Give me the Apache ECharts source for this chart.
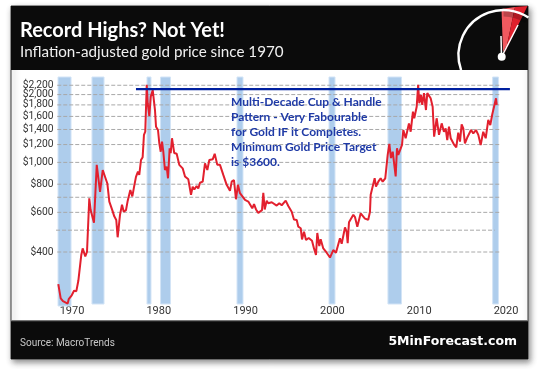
<!DOCTYPE html>
<html>
<head>
<meta charset="utf-8">
<script src="https://cdn.jsdelivr.net/npm/echarts@6/dist/echarts.min.js"></script>
<style>html,body{margin:0;padding:0;background:#fff}#c{width:540px;height:369px}</style>
</head>
<body>
<div id="c"></div>
<script>
const years = [1968.42,1968.65,1968.70,1968.96,1969.19,1969.50,1969.62,1969.97,1970.12,1970.23,1970.50,1970.73,1970.89,1971.07,1971.23,1971.53,1971.73,1971.99,1972.15,1972.53,1972.85,1973.23,1973.54,1974.07,1974.30,1974.64,1974.87,1975.10,1975.26,1975.53,1975.76,1975.96,1976.22,1976.42,1976.72,1976.95,1977.18,1977.37,1977.60,1977.75,1977.95,1978.14,1978.29,1978.44,1978.61,1978.72,1978.91,1979.07,1979.30,1979.56,1979.68,1979.91,1980.06,1980.22,1980.37,1980.52,1980.71,1980.91,1981.06,1981.25,1981.37,1981.52,1981.67,1981.78,1982.06,1982.36,1982.75,1983.02,1983.40,1983.71,1983.90,1984.09,1984.36,1984.55,1984.75,1985.06,1985.32,1985.59,1985.82,1986.21,1986.44,1986.74,1987.05,1987.43,1987.82,1988.20,1988.40,1988.66,1988.89,1989.12,1989.35,1989.58,1989.93,1990.31,1990.51,1990.77,1990.97,1991.20,1991.46,1991.66,1991.89,1992.04,1992.20,1992.43,1992.61,1993.01,1993.19,1993.58,1993.88,1994.16,1994.62,1994.92,1995.31,1995.57,1995.89,1996.07,1996.35,1996.50,1996.73,1996.96,1997.27,1997.65,1997.88,1998.11,1998.26,1998.49,1998.65,1998.95,1999.34,1999.72,2000.10,2000.41,2000.87,2001.07,2001.45,2001.64,2001.76,2001.91,2002.41,2002.60,2002.87,2003.26,2003.75,2004.13,2004.33,2004.41,2004.64,2004.87,2005.02,2005.29,2005.56,2005.79,2006.09,2006.37,2006.56,2006.75,2006.95,2007.13,2007.29,2007.44,2007.59,2007.79,2008.02,2008.17,2008.44,2008.82,2009.02,2009.28,2009.43,2009.71,2009.88,2010.01,2010.20,2010.35,2010.55,2010.78,2010.93,2011.32,2011.55,2011.70,2011.72,2012.01,2012.28,2012.59,2012.85,2013.05,2013.23,2013.43,2013.63,2013.81,2014.04,2014.27,2014.50,2014.70,2014.89,2015.08,2015.27,2015.58,2015.97,2016.23,2016.54,2016.81,2017.08,2017.38,2017.66,2017.96,2018.19,2018.42,2018.65,2018.85,2018.93];
const prices = [288,287,249,242,240,236,247,257,255,269,268,298,302,388,415,382,401,693,614,540,975,740,925,806,670,614,576,555,465,585,648,604,614,676,754,706,790,862,910,880,1025,1055,1325,1368,2210,1831,1606,1955,2095,1708,1440,1392,1215,1115,1236,1115,925,957,850,1155,1100,1280,1295,1100,1092,975,941,866,841,718,780,758,785,766,812,821,990,925,1025,1032,1092,975,975,880,795,748,821,835,686,795,730,725,681,670,676,625,652,618,597,590,614,733,618,676,658,665,676,643,658,645,676,640,604,558,555,518,510,455,492,452,462,449,415,388,486,425,456,415,397,378,408,397,460,435,514,492,438,542,585,572,518,594,563,556,604,718,730,850,780,821,850,821,850,1080,1208,1045,1115,975,866,1155,1080,1100,1195,1392,1280,1490,1368,1680,1570,1765,2210,1831,1995,1800,2030,1708,2030,1925,1765,1765,1300,1570,1325,1490,1368,1415,1257,1440,1280,1300,1195,1165,1355,1236,1475,1415,1215,1300,1392,1345,1392,1325,1195,1368,1280,1543,1465,1635,1606,1925,1800];
const yearTicks = [1970,1980,1990,2000,2010,2020];
const priceTicks = [400,600,800,1000,1200,1400,1600,1800,2000];
const topPriceTicks = [2200];
const gridValues = [400,500,600,700,800,1000,1200,1400,1600,1800,2000,2200];
const bandStarts = [1968.39,1972.30,1978.64,1980.20,1989.01,1999.61,2006.40,2018.46];
const bandEnds   = [1969.89,1973.69,1979.10,1981.35,1989.70,2000.30,2007.96,2019.13];
const resistanceYears = [1977.37,2020.45];
const resistanceValue = 2117;
const noteLines = ["Multi-Decade Cup & Handle","Pattern - Very Fabourable","for Gold IF it Completes.","Minimum Gold Price Target","is $3600."];
const titleText = "Record Highs? Not Yet!";
const subtitleText = "Inflation-adjusted gold price since 1970";
const sourceText = "Source: MacroTrends";
const brandText = "5MinForecast.com";

const AXIS_MIN = 230.3, AXIS_MAX = 2394, BAND_BOTTOM = 235;
const chart = echarts.init(document.getElementById('c'), null, {renderer:'canvas'});
const sans = '"Lato","Noto Sans",sans-serif';
const black = '#0b0b0b';

const graphics = [
  {type:'rect', z:-20, shape:{x:11,y:6,width:517,height:353},
   style:{fill:'#fff', stroke:'#3a3a3a', lineWidth:1, shadowBlur:6, shadowOffsetX:2, shadowOffsetY:3, shadowColor:'rgba(0,0,0,0.45)'}},
  {type:'rect', z:-19, shape:{x:11,y:6,width:517,height:64}, style:{fill:black}},
  {type:'rect', z:-19, shape:{x:11,y:321,width:517,height:38}, style:{fill:black}},
  {type:'rect', z:-19, shape:{x:11,y:320,width:517,height:1.2}, style:{fill:'#777'}},
  {type:'polygon', z:-18, shape:{points:[[501.5,9],[515,7],[507,45],[503,52]]}, style:{fill:'#f0595f'}},
  {type:'polygon', z:-18, shape:{points:[[515,7],[527.5,6],[504,54],[507,45]]}, style:{fill:'#e0202c'}},
  {type:'arc', z:-17, shape:{cx:503.5,cy:55,r:41.5,startAngle:-1.57,endAngle:-0.98,clockwise:true}, style:{stroke:'rgba(0,0,0,0.22)',lineWidth:6,fill:'none'}},
  {type:'arc', z:-16, shape:{cx:503.5,cy:55,r:45,startAngle:2.8,endAngle:5.3,clockwise:true}, style:{stroke:'#fff',lineWidth:2.4,fill:'none'}},
  {type:'line', z:-15, shape:{x1:501.5,y1:57,x2:501,y2:36}, style:{stroke:'#fff',lineWidth:1.5}},
  {type:'line', z:-15, shape:{x1:501.5,y1:57,x2:518,y2:25}, style:{stroke:'#fff',lineWidth:1.5}},
  {type:'circle', z:-15, shape:{cx:501.7,cy:56.7,r:4}, style:{fill:'#fff'}},
  {type:'text', z:50, x:20, y:31, style:{text:titleText, fill:'#fff', font:'700 20px "Lato",sans-serif', textVerticalAlign:'middle'}},
  {type:'text', z:50, x:20, y:52, style:{text:subtitleText, fill:'#f0f0f0', font:'400 15.2px '+sans, textVerticalAlign:'middle'}},
  {type:'text', z:50, x:20, y:343, style:{text:sourceText, fill:'#c8c8c8', font:'400 10px "Roboto",sans-serif', textVerticalAlign:'middle'}},
  {type:'text', z:50, x:517, y:342, style:{text:brandText, fill:'#fff', font:'700 12.5px "DejaVu Sans",sans-serif', textAlign:'right', textVerticalAlign:'middle'}}
];
noteLines.forEach((t,i)=>graphics.push({type:'text', z:50, x:231, y:102+i*15.05,
  style:{text:t, fill:'#1f3aa6', font:'700 12px '+sans, textVerticalAlign:'middle'}}));

const gridSeries = gridValues.map(v=>({
  type:'line', name:'grid'+v, z:3, silent:true, showSymbol:false,
  data:[[v===500?1968.16:1968.3,v],[v===500?2018.7:2019.3,v]],
  lineStyle:{color:'#a8a8a8',type:'dashed',width:1}
}));

const yAxisFor = ticks => ({type:'log',logBase:10,min:AXIS_MIN,max:AXIS_MAX,position:'left',
  splitLine:{show:false},axisLine:{show:false},axisTick:{show:false},minorTick:{show:false},
  axisLabel:{customValues:ticks,hideOverlap:false,color:'#333',fontSize:10.3,fontFamily:'Roboto',margin:1,formatter:v=>'$'+Math.round(v).toLocaleString('en-US')}});

chart.setOption({
  animation:false,
  backgroundColor:'#fff',
  graphic:{elements:graphics},
  grid:{left:54.64,right:16.64,top:77,bottom:63,containLabel:false},
  xAxis:{type:'value',min:1968,max:2022,splitLine:{show:false},axisLine:{show:false},axisTick:{show:false},
    axisLabel:{customValues:yearTicks,color:'#333',fontSize:11,fontFamily:'Roboto',margin:0,verticalAlign:'top',showMinLabel:true,showMaxLabel:true,formatter:v=>String(Math.round(v))}},
  yAxis:[yAxisFor(priceTicks),yAxisFor(topPriceTicks)],
  series:[
    {type:'line',name:'bands',z:1,data:[],silent:true,
      markArea:{silent:true,itemStyle:{color:'#aecdec',borderColor:'#d3e4f6',borderWidth:1},
        data:bandStarts.map((s,i)=>[{xAxis:s,yAxis:i===0?AXIS_MIN:BAND_BOTTOM},{xAxis:bandEnds[i],yAxis:AXIS_MAX}])}},
    ...gridSeries,
    {type:'line',name:'Gold',z:4,data:years.map((y,i)=>[y,prices[i]]),showSymbol:false,smooth:false,
      lineStyle:{color:'#e2202e',width:2},silent:true},
    {type:'line',name:'Resistance',z:5,data:resistanceYears.map(y=>[y,resistanceValue]),showSymbol:false,
      lineStyle:{color:'#00209f',width:2.2},silent:true}
  ]
});
</script>
</body>
</html>
